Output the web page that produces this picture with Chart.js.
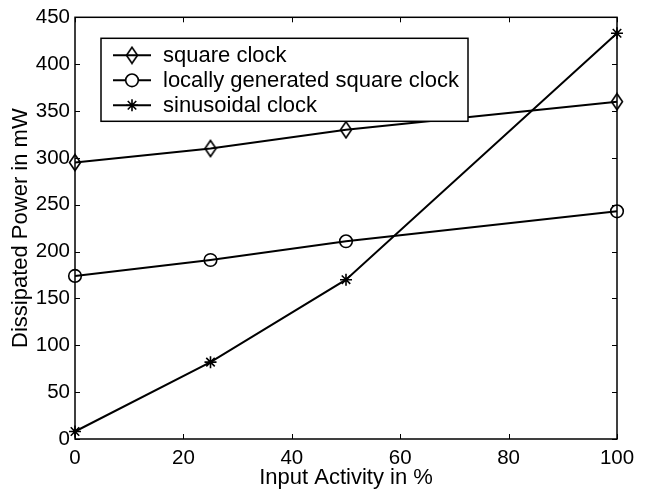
<!DOCTYPE html>
<html>
<head>
  <meta charset="UTF-8">
  <title>Dissipated Power</title>
  <script src="https://cdn.jsdelivr.net/npm/chart.js"></script>
  <style>
    html, body { margin: 0; padding: 0; background: #fff; }
    #wrap { width: 645px; height: 490px; }
  </style>
</head>
<body>
  <div id="wrap"><canvas id="powerChart" width="645" height="490"></canvas></div>

  <script>
    // data
    const activity = [0, 25, 50, 100];
    const squareClock = [295, 310, 330, 360];
    const localSquareClock = [174, 191, 211, 243];
    const sinusoidalClock = [8, 82, 170, 433];
    const seriesLabels = ['square clock', 'locally generated square clock', 'sinusoidal clock'];
    const xTicks = [0, 20, 40, 60, 80, 100];
    const yTicks = [0, 50, 100, 150, 200, 250, 300, 350, 400, 450];

    const FONT = 'Liberation Sans, Arial, Helvetica, sans-serif';
    const TICK_SIZE = 20.5;
    const TEXT_SIZE = 22;

    // tall diamond marker like matlab's 'd'
    function makeDiamond() {
      const c = document.createElement('canvas');
      c.width = 14; c.height = 19;
      const g = c.getContext('2d');
      g.strokeStyle = '#000';
      g.lineWidth = 1.6;
      g.beginPath();
      g.moveTo(7, 1.5);
      g.lineTo(12.5, 9.5);
      g.lineTo(7, 17.5);
      g.lineTo(1.5, 9.5);
      g.closePath();
      g.stroke();
      return c;
    }
    const diamond = makeDiamond();

    function toPoints(ys) {
      return activity.map((x, i) => ({ x: x, y: ys[i] }));
    }

    // box + inward ticks on all four sides, and the legend inside the plot
    const matlabBox = {
      id: 'matlabBox',
      beforeDatasetsDraw(chart) {
        const ctx = chart.ctx;
        const a = chart.chartArea;
        const xs = chart.scales.x, ys = chart.scales.y;
        const tl = 5;
        ctx.save();
        ctx.strokeStyle = '#000';
        ctx.lineWidth = 1;
        ctx.beginPath();
        xTicks.forEach(v => {
          const px = Math.round(xs.getPixelForValue(v)) + 0.5;
          ctx.moveTo(px, a.bottom); ctx.lineTo(px, a.bottom - tl);
          ctx.moveTo(px, a.top); ctx.lineTo(px, a.top + tl);
        });
        yTicks.forEach(v => {
          const py = Math.round(ys.getPixelForValue(v)) + 0.5;
          ctx.moveTo(a.left, py); ctx.lineTo(a.left + tl, py);
          ctx.moveTo(a.right, py); ctx.lineTo(a.right - tl, py);
        });
        ctx.stroke();
        ctx.lineWidth = 1.5;
        ctx.strokeRect(a.left, a.top, a.right - a.left, a.bottom - a.top);
        ctx.restore();
      },
      afterDatasetsDraw(chart) {
        const ctx = chart.ctx;
        const a = chart.chartArea;
        const lx = a.left + 26, ly = a.top + 21, lw = 367, lh = 83;
        ctx.save();
        ctx.fillStyle = '#fff';
        ctx.fillRect(lx, ly, lw, lh);
        ctx.strokeStyle = '#000';
        ctx.lineWidth = 1.5;
        ctx.strokeRect(lx, ly, lw, lh);
        ctx.textBaseline = 'middle';
        ctx.textAlign = 'left';
        chart.data.datasets.forEach((ds, i) => {
          const cy = ly + 17 + i * 25;
          ctx.strokeStyle = '#000';
          ctx.lineWidth = 2;
          ctx.beginPath();
          ctx.moveTo(lx + 12, cy); ctx.lineTo(lx + 50, cy);
          ctx.stroke();
          ctx.fillStyle = '#fff';
          ctx.lineWidth = ds.pointBorderWidth;
          Chart.helpers.drawPoint(ctx, {
            pointStyle: ds.pointStyle,
            radius: ds.pointRadius,
            borderWidth: ds.pointBorderWidth,
            rotation: 0
          }, lx + 31, cy);
          ctx.fillStyle = '#000';
          ctx.font = TEXT_SIZE + 'px ' + FONT;
          ctx.fillText(ds.label, lx + 62, cy + 1);
        });
        ctx.restore();
      }
    };

    function drawChart() {
      const ctx = document.getElementById('powerChart').getContext('2d');
      const common = {
        borderColor: '#000',
        borderWidth: 2,
        pointBorderColor: '#000',
        pointBackgroundColor: 'rgba(255,255,255,0)',
        pointBorderWidth: 1.6,
        tension: 0,
        fill: false,
        clip: false
      };

      new Chart(ctx, {
        type: 'line',
        data: {
          datasets: [
            Object.assign({ label: seriesLabels[0], data: toPoints(squareClock), pointStyle: diamond, pointRadius: 7 }, common),
            Object.assign({ label: seriesLabels[1], data: toPoints(localSquareClock), pointStyle: 'circle', pointRadius: 6.3 }, common),
            Object.assign({ label: seriesLabels[2], data: toPoints(sinusoidalClock), pointStyle: 'star', pointRadius: 6 }, common)
          ]
        },
        options: {
          responsive: false,
          animation: false,
          layout: { padding: { top: 12, right: 28, left: 0, bottom: 0 } },
          plugins: {
            legend: { display: false },
            tooltip: { enabled: false }
          },
          scales: {
            x: {
              type: 'linear',
              min: 0,
              max: 100,
              afterFit: s => { s.height = 51; },
              afterBuildTicks: s => { s.ticks = xTicks.map(v => ({ value: v })); },
              grid: { display: false, drawTicks: false },
              border: { display: false },
              ticks: { color: '#000', padding: 7, maxRotation: 0, font: { family: FONT, size: TICK_SIZE } },
              title: {
                display: true,
                text: 'Input Activity in %',
                color: '#000',
                padding: { top: 0, bottom: 1 },
                font: { family: FONT, size: TEXT_SIZE, lineHeight: 1 }
              }
            },
            y: {
              min: 0,
              max: 450,
              afterFit: s => { s.width = 75; },
              afterBuildTicks: s => { s.ticks = yTicks.map(v => ({ value: v })); },
              grid: { display: false, drawTicks: false },
              border: { display: false },
              ticks: { color: '#000', padding: 5, font: { family: FONT, size: TICK_SIZE } },
              title: {
                display: true,
                text: 'Dissipated Power in mW',
                color: '#000',
                padding: { top: 10, bottom: 0 },
                font: { family: FONT, size: TEXT_SIZE, lineHeight: 1 }
              }
            }
          }
        },
        plugins: [matlabBox]
      });
    }

    drawChart();
  </script>
</body>
</html>
